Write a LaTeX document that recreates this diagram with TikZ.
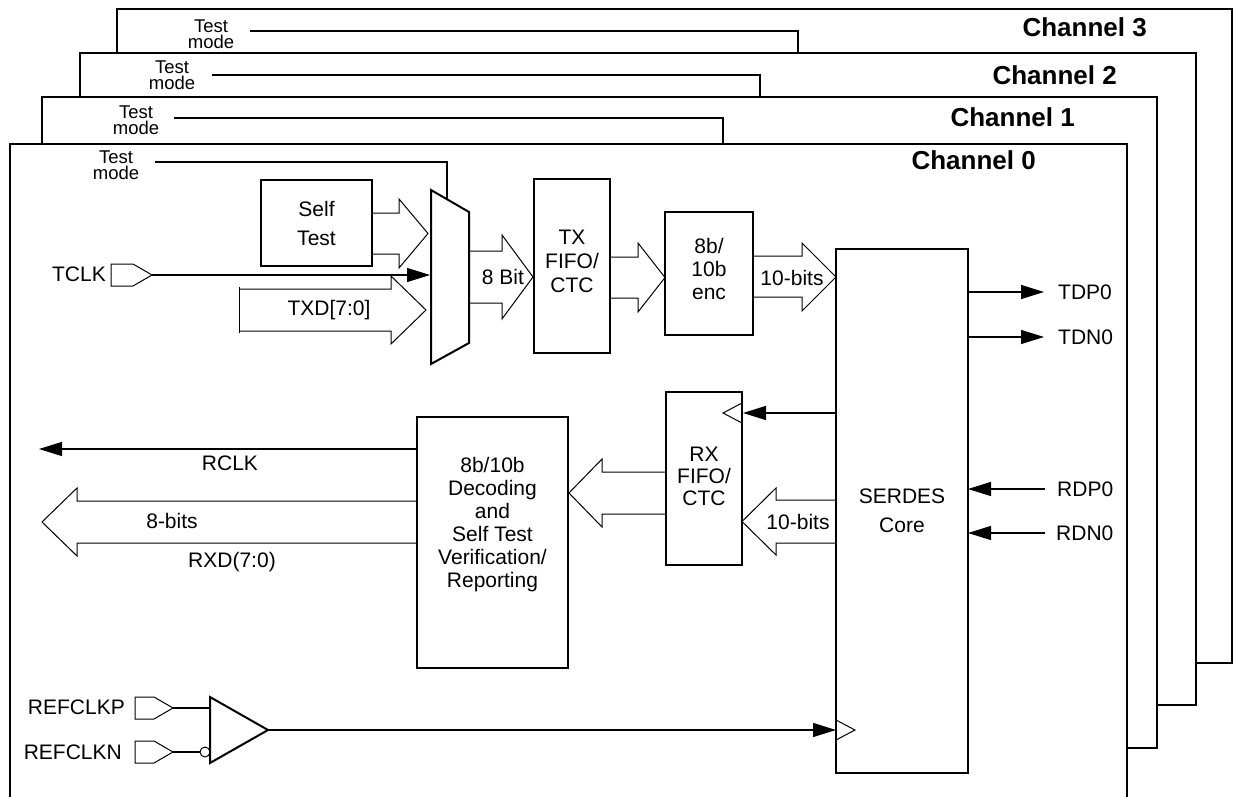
\documentclass[tikz,border=0pt]{standalone}
\usepackage{fontspec}
\setmainfont{Liberation Sans}
\usetikzlibrary{arrows.meta,calc}
\begin{document}
\begin{tikzpicture}[x=1pt,y=-1pt,
  frame/.style={draw, line width=2pt, fill=white, inner sep=0pt, outer sep=0pt, anchor=north west},
  blk/.style={draw, line width=2pt, fill=white, inner sep=0pt, outer sep=0pt},
  lbl/.style={inner sep=0pt, font=\fontsize{21}{23}\selectfont},
  btxt/.style={inner sep=0pt, align=center},
  tm/.style={inner sep=0pt, align=center, font=\fontsize{18.5}{16.5}\selectfont},
  chl/.style={inner sep=0pt, anchor=east, font=\bfseries\fontsize{26}{28}\selectfont},
  sig/.style={line width=1.3pt},
  hol/.style={line width=1pt, line join=miter},
  fa/.style={sig, -{Triangle[length=23pt,width=14pt]}},
  pad/.style={line width=1pt},
]
\useasboundingbox (0,0) rectangle (1235,797);

% ---------- channel frames ----------
\node[frame, minimum width=1115pt, minimum height=654pt] (ch3) at (117,9) {};
\coordinate (t3a) at (250,31); \coordinate (t3b) at (798,31); \coordinate (t3c) at (798,53);
\draw[sig] (t3a) -- (t3b) -- (t3c);
\node[tm] (tm3) at (211,34) {Test\\mode};
\node[chl] (cl3) at (1147,27) {Channel 3};

\node[frame, minimum width=1116pt, minimum height=652pt] (ch2) at (80,53) {};
\coordinate (t2a) at (212,75); \coordinate (t2b) at (760,75); \coordinate (t2c) at (760,97);
\draw[sig] (t2a) -- (t2b) -- (t2c);
\node[tm] (tm2) at (172,75) {Test\\mode};
\node[chl] (cl2) at (1117,75) {Channel 2};

\node[frame, minimum width=1115pt, minimum height=651pt] (ch1) at (42,97) {};
\coordinate (t1a) at (174,118); \coordinate (t1b) at (723,118); \coordinate (t1c) at (723,144);
\draw[sig] (t1a) -- (t1b) -- (t1c);
\node[tm] (tm1) at (136,120) {Test\\mode};
\node[chl] (cl1) at (1075,117) {Channel 1};

\node[frame, minimum width=1117pt, minimum height=680pt] (ch0) at (10,144) {};
\coordinate (t0a) at (155,162); \coordinate (t0b) at (447,162); \coordinate (t0c) at (447,199);
\draw[sig] (t0a) -- (t0b) -- (t0c);
\node[tm] (tm0) at (116,165) {Test\\mode};
\node[chl] (cl0) at (1036,160) {Channel 0};

% ---------- hollow bus arrows (drawn before the blocks) ----------
% Self Test -> mux
\draw[hol] (372,213) -- (399,213) -- (399,199) -- (428,233.5) -- (399,268) -- (399,254) -- (372,254);
% TXD -> mux
\draw[hol] (239,289) -- (391,289) -- (391,276) -- (426,310) -- (391,344) -- (391,331) -- (239,331);
\coordinate (txa) at (239,287); \coordinate (txb) at (239,333);
\draw[pad] (txa) -- (txb);
\node[lbl] (txd) at (329,310) {TXD[7:0]};
% mux -> TX FIFO
\draw[hol] (469,251) -- (502,251) -- (502,235) -- (533,277) -- (502,319) -- (502,303) -- (469,303);
\node[lbl] (b8) at (503,277) {8 Bit};
% TX FIFO -> enc
\draw[hol] (610,257) -- (638,257) -- (638,243) -- (665,277.5) -- (638,312) -- (638,298) -- (610,298);
% enc -> SERDES
\draw[hol] (753,256) -- (802,256) -- (802,243) -- (836,277) -- (802,311) -- (802,297) -- (753,297);
\node[lbl] (b10a) at (792,278) {10-bits};
% SERDES -> RX FIFO
\draw[hol] (836,500) -- (776,500) -- (776,488) -- (742,521.5) -- (776,555) -- (776,543) -- (836,543);
\node[lbl] (b10b) at (798,522) {10-bits};
% RX FIFO -> decoder
\draw[hol] (666,472) -- (602,472) -- (602,459) -- (569,493) -- (602,527) -- (602,514) -- (666,514);
% decoder -> RXD out
\draw[hol] (417,501) -- (77,501) -- (77,488) -- (42,522) -- (77,556) -- (77,543) -- (417,543);
\node[lbl] (b8b) at (172,521) {8-bits};
\node[lbl] (rxd) at (232,562) {RXD(7:0)};

% ---------- mux ----------
\coordinate (m1) at (431,190); \coordinate (m2) at (469,212);
\coordinate (m3) at (469,343); \coordinate (m4) at (431,364);
\draw[line width=2pt] (m1) -- (m2) -- (m3) -- (m4) -- cycle;

% ---------- blocks ----------
\node[blk, minimum width=111pt, minimum height=86pt] (st) at (316.5,223) {};
\node[btxt, font=\fontsize{21}{29}\selectfont] (stt) at (316.5,223) {Self\\Test};

\node[blk, minimum width=76pt, minimum height=174pt] (txf) at (572,266) {};
\node[btxt, font=\fontsize{21}{24}\selectfont] (txft) at (572,261) {TX\\FIFO/\\CTC};

\node[blk, minimum width=88pt, minimum height=123pt] (enc) at (709,273.5) {};
\node[btxt, font=\fontsize{21}{23}\selectfont] (enct) at (709,269) {8b/\\10b\\enc};

\node[blk, minimum width=132pt, minimum height=524pt] (ser) at (902,511) {};
\node[btxt, font=\fontsize{21}{29}\selectfont] (sert) at (902,511) {SERDES\\Core};

\node[blk, minimum width=76pt, minimum height=173pt] (rxf) at (704,478.5) {};
\node[btxt, font=\fontsize{21}{22}\selectfont] (rxft) at (704,476) {RX\\FIFO/\\CTC};

\node[blk, minimum width=151pt, minimum height=251pt] (dec) at (492.5,542.5) {};
\node[btxt, font=\fontsize{21}{23}\selectfont] (dect) at (492.5,525) {8b/10b\\Decoding\\and\\Self Test\\Verification/\\Reporting};

% ---------- TCLK ----------
\node[lbl, anchor=east] (tclk) at (106,274) {TCLK};
\draw[pad, fill=white] (111,264) -- (133,264) -- (152,275) -- (133,286) -- (111,286) -- cycle;
\coordinate (tclkp) at (152,275); \coordinate (tclkm) at (430,275);
\draw[fa] (tclkp) -- (tclkm);

% ---------- serial pins ----------
\coordinate (tdp) at (1044,292); \coordinate (tdn) at (1044,337);
\coordinate (rdp) at (1045,489); \coordinate (rdn) at (1045,533);
\draw[fa] (ser.east |- tdp) -- (tdp);
\draw[fa] (ser.east |- tdn) -- (tdn);
\draw[fa] (rdp) -- (ser.east |- rdp);
\draw[fa] (rdn) -- (ser.east |- rdn);
\node[lbl, anchor=west] (ltdp) at (1058,292) {TDP0};
\node[lbl, anchor=west] (ltdn) at (1058,337) {TDN0};
\node[lbl, anchor=west] (lrdp) at (1057,489) {RDP0};
\node[lbl, anchor=west] (lrdn) at (1056,533) {RDN0};

% ---------- RX clock ----------
\coordinate (rxc) at (743,413);
\draw[fa] (ser.west |- rxc) -- (rxc);
\draw[pad] (742,403) -- (723,413) -- (742,423);

% ---------- RCLK ----------
\coordinate (rclk) at (39,449);
\draw[fa] (dec.west |- rclk) -- (rclk);
\node[lbl] (lrclk) at (230,463) {RCLK};

% ---------- REFCLK ----------
\node[lbl, anchor=east] (lrefp) at (125,707) {REFCLKP};
\node[lbl, anchor=east] (lrefn) at (122,752) {REFCLKN};
\draw[pad, fill=white] (135,697) -- (154,697) -- (173,708) -- (154,719) -- (135,719) -- cycle;
\draw[pad, fill=white] (135,741) -- (154,741) -- (173,752) -- (154,763) -- (135,763) -- cycle;
\coordinate (refp) at (173,708); \coordinate (refn) at (173,752);
\coordinate (b1) at (210,697); \coordinate (b2) at (268,730); \coordinate (b3) at (210,763);
\draw[sig] (refp) -- (b1 |- refp);
\draw[sig] (refn) -- (200,752);
\draw[pad] (205,752) circle (5);
\draw[line width=2pt, fill=white] (b1) -- (b2) -- (b3) -- cycle;
\coordinate (serclk) at (836,730);
\draw[fa] (b2) -- (serclk);
\draw[pad] (836,720) -- (855,730) -- (836,740);

\end{tikzpicture}
\end{document}
